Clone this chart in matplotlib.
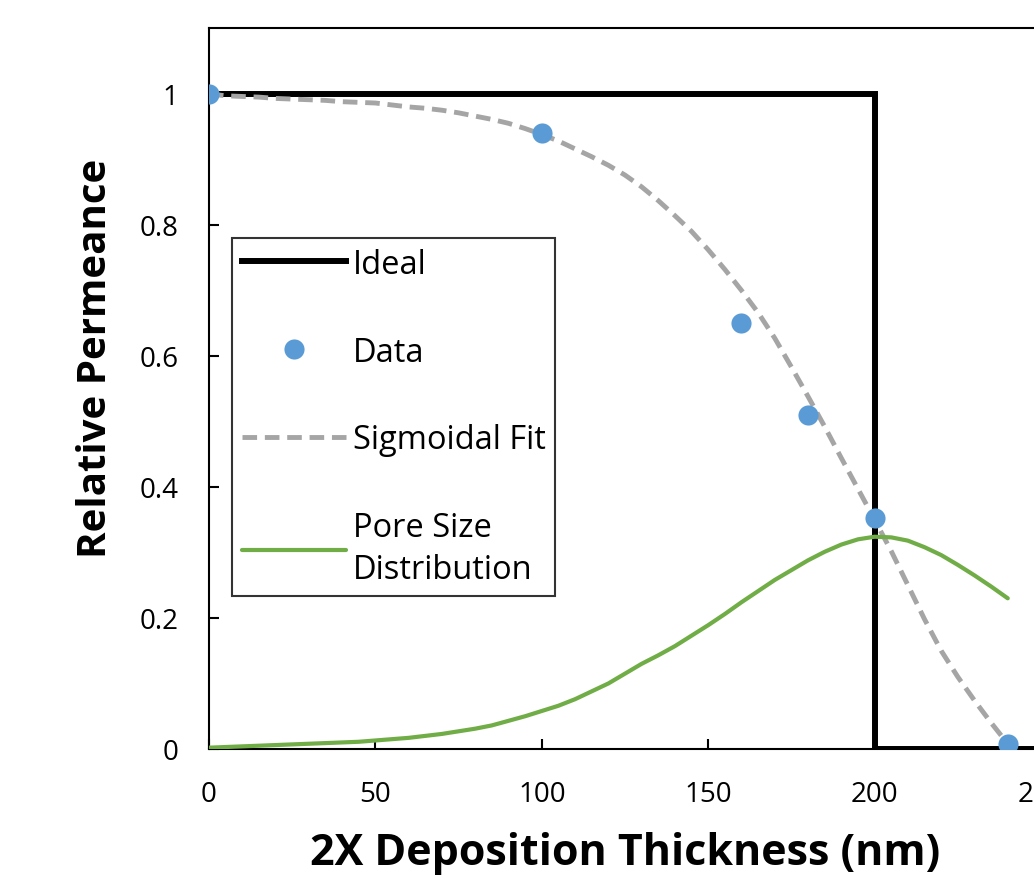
import matplotlib
matplotlib.use("Agg")
import matplotlib.pyplot as plt

plt.rcParams['font.family'] = ['Open Sans', 'DejaVu Sans']

# measured points
data_x = [0, 100, 160, 180, 200, 240]
data_y = [1.0, 0.94, 0.65, 0.51, 0.352, 0.008]

# ideal step response
ideal_x = [0, 200, 200, 250]
ideal_y = [1, 1, 0, 0]

# curves, every 5 nm
curve_x = [0, 5, 10, 15, 20, 25, 30, 35, 40, 45, 50, 55, 60, 65, 70, 75,
           80, 85, 90, 95, 100, 105, 110, 115, 120, 125, 130, 135, 140,
           145, 150, 155, 160, 165, 170, 175, 180, 185, 190, 195, 200,
           205, 210, 215, 220, 225, 230, 235, 240]
sigmoid_y = [1.000, 0.997, 0.996, 0.995, 0.993, 0.992, 0.991, 0.990, 0.988,
             0.987, 0.986, 0.983, 0.980, 0.978, 0.975, 0.971, 0.966, 0.961,
             0.955, 0.947, 0.938, 0.928, 0.916, 0.904, 0.891, 0.876, 0.858,
             0.837, 0.814, 0.790, 0.762, 0.732, 0.700, 0.666, 0.627, 0.583,
             0.538, 0.492, 0.444, 0.397, 0.350, 0.302, 0.250, 0.198, 0.150,
             0.110, 0.074, 0.040, 0.008]
pore_y = [0.002, 0.003, 0.004, 0.005, 0.006, 0.007, 0.008, 0.009, 0.010,
          0.011, 0.013, 0.015, 0.017, 0.020, 0.023, 0.027, 0.031, 0.036,
          0.043, 0.050, 0.058, 0.066, 0.076, 0.088, 0.100, 0.115, 0.130,
          0.143, 0.157, 0.173, 0.189, 0.206, 0.224, 0.241, 0.258, 0.273,
          0.288, 0.301, 0.312, 0.320, 0.324, 0.323, 0.318, 0.308, 0.296,
          0.281, 0.265, 0.248, 0.230]

x_ticks = [0, 50, 100, 150, 200, 250]
y_ticks = [0, 0.2, 0.4, 0.6, 0.8, 1.0]
y_tick_labels = ['0', '0.2', '0.4', '0.6', '0.8', '1']

fig = plt.figure(figsize=(10.34, 8.78), dpi=100)
ax = fig.add_axes([0.2021, 0.1458, 0.8047, 0.8208])

ax.plot(ideal_x, ideal_y, color='black', lw=4.3, solid_joinstyle='miter',
        label='Ideal', zorder=2)
ax.plot(data_x, data_y, 'o', color='#5B9BD5', ms=14.5, mec='none',
        label='Data', zorder=4)
ax.plot(curve_x, sigmoid_y, color='#A5A5A5', lw=3.5, dashes=(3, 1.6),
        label='Sigmoidal Fit', zorder=3)
ax.plot(curve_x, pore_y, color='#70AD47', lw=3, solid_capstyle='round',
        label='Pore Size\nDistribution', zorder=3)

ax.set_xlim(0, 250)
ax.set_ylim(0, 1.1)
ax.set_xticks(x_ticks)
ax.set_yticks(y_ticks)
ax.set_yticklabels(y_tick_labels)
ax.tick_params(direction='in', length=7, width=1.5, labelsize=20)
ax.tick_params(axis='x', pad=22)
ax.tick_params(axis='y', pad=22)

for s in ax.spines.values():
    s.set_linewidth(1.5)

ax.set_xlabel('2X Deposition Thickness (nm)', fontsize=31, fontweight='bold',
              labelpad=17)
ax.set_ylabel('Relative Permeance', fontsize=29, fontweight='bold')
ax.yaxis.set_label_coords(-0.113, 0.544)

leg = ax.legend(loc='upper left', bbox_to_anchor=(0.0276, 0.709),
                fontsize=23.5, frameon=True, fancybox=False, edgecolor='black',
                handlelength=3.2, handletextpad=0.2, labelspacing=1.68,
                borderpad=0.3, borderaxespad=0)
leg.get_frame().set_linewidth(1.5)
leg.get_texts()[3].set_linespacing(1.35)

fig.savefig('out.png', dpi=100)
